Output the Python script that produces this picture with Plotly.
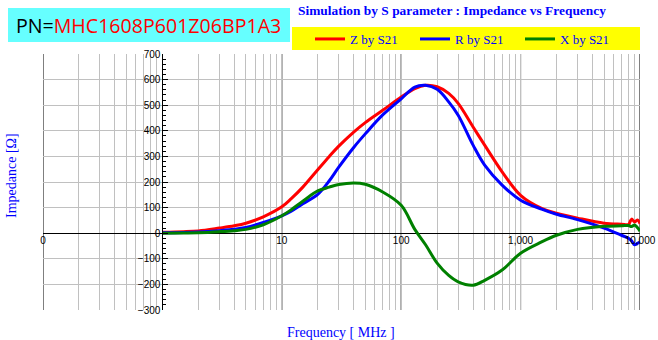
import plotly.graph_objects as go

# Frequency points [MHz] and impedance components [Ohm]
freq_mhz = [1, 1.5, 2, 3, 4, 5, 7, 10, 12, 15, 20, 25, 30, 40, 50, 70, 100,
            130, 160, 200, 250, 300, 400, 500, 700, 1000, 1500, 2000, 3000,
            5000, 7000, 8000, 8500, 9000, 9500, 10000]
z_s21 = [4, 6, 9, 20, 29, 39, 64, 103, 135, 180, 248, 300, 340, 395, 432, 480,
         532, 565, 578, 572, 546, 507, 415, 344, 240, 148, 97, 78, 59, 39, 35,
         34, 55, 44, 52, 38]
r_s21 = [2, 3, 5, 10, 15, 22, 42, 68, 86, 115, 152, 205, 258, 335, 388, 462,
         525, 571, 578, 562, 513, 461, 344, 266, 188, 129, 94, 74, 53, 20, -8,
         -20, -30, -45, -40, -35]
x_s21 = [0, 1, 2, 6, 10, 15, 33, 68, 92, 125, 165, 180, 190, 196, 191, 161,
         109, 15, -45, -117, -165, -190, -203, -184, -144, -78, -34, -8, 15,
         27, 29, 30, 26, 32, 22, 8]

# Axis labelling
x_label_vals = [0.1, 10, 100, 1000, 10000]
x_label_text = ["0", "10", "100", "1,000", "10,000"]
x_major_lines = [0.1, 10, 100, 1000, 10000]
y_tick_vals = [-300, -200, -100, 0, 100, 200, 300, 400, 500, 600, 700]

# log grid: every integer multiple inside each decade
grid_vals = []
for dec in [0.1, 1, 10, 100, 1000]:
    for m in range(1, 10):
        grid_vals.append(round(m * dec, 6))
grid_vals.append(10000)
grid_text = []
for v in grid_vals:
    if v in x_label_vals:
        grid_text.append(x_label_text[x_label_vals.index(v)])
    else:
        grid_text.append("")

W, H = 658, 340
ML, MR, MT, MB = 43, 18, 54, 30
PW, PH = W - ML - MR, H - MT - MB


def px(xp):
    return (xp - ML) / PW


def py(yp):
    return (H - MB - yp) / PH


serif = "Liberation Serif"
fig = go.Figure()
for name, vals, col in [("Z by S21", z_s21, "#FF0000"),
                        ("R by S21", r_s21, "#0000FF"),
                        ("X by S21", x_s21, "#008000")]:
    fig.add_trace(go.Scatter(x=freq_mhz, y=vals, mode="lines", name=name,
                             line=dict(color=col, width=3, shape="spline",
                                       smoothing=1.0)))

shapes = []
for xv in x_major_lines:
    shapes.append(dict(type="line", xref="x", yref="paper", x0=xv, x1=xv,
                       y0=0, y1=1, line=dict(color="black", width=1),
                       layer="between"))
# legend band
shapes.append(dict(type="rect", xref="paper", yref="paper",
                   x0=px(292), x1=px(640), y0=py(50), y1=py(27),
                   fillcolor="#FFFF00", line=dict(width=0), layer="below"))
# part-number box
shapes.append(dict(type="rect", xref="paper", yref="paper",
                   x0=px(8), x1=px(290), y0=py(42), y1=py(8),
                   fillcolor="#66FFFF", line=dict(width=0), layer="below"))

annotations = [
    dict(text="PN=<span style='color:#FF0000'>MHC1608P601Z06BP1A3</span>",
         xref="paper", yref="paper", x=px(148), y=py(25), showarrow=False,
         xanchor="center", yanchor="middle",
         font=dict(family="Open Sans", size=19.6, color="black")),
    dict(text="<b>Simulation by S parameter : Impedance vs Frequency</b>",
         xref="paper", yref="paper", x=px(452), y=py(10), showarrow=False,
         xanchor="center", yanchor="middle",
         font=dict(family=serif, size=13.4, color="#0000FF")),
    dict(text="Impedance [Ω]", textangle=-90,
         xref="paper", yref="paper", x=px(11), y=py(176), showarrow=False,
         xanchor="center", yanchor="middle",
         font=dict(family=serif, size=14, color="#0000FF")),
    dict(text="Frequency [ MHz ]",
         xref="paper", yref="paper", x=px(341), y=py(332), showarrow=False,
         xanchor="center", yanchor="middle",
         font=dict(family=serif, size=14, color="#0000FF")),
]

fig.update_layout(
    width=W, height=H,
    margin=dict(l=ML, r=MR, t=MT, b=MB, autoexpand=False),
    paper_bgcolor="white", plot_bgcolor="white",
    shapes=shapes, annotations=annotations,
    showlegend=True,
    legend=dict(orientation="h", x=px(310), y=py(39), xanchor="left",
                yanchor="middle", bgcolor="rgba(0,0,0,0)",
                entrywidth=60, entrywidthmode="pixels",
                font=dict(family=serif, size=13, color="#0000FF")),
    xaxis=dict(type="log", range=[-1, 4], anchor="free", position=0.3,
               automargin=False,
               tickvals=grid_vals, ticktext=grid_text, ticks="",
               showline=False, zeroline=False,
               showgrid=True, gridcolor="#C0C0C0", gridwidth=1,
               tickfont=dict(family="Liberation Sans", size=10, color="black")),
    yaxis=dict(range=[-300, 700], anchor="free", position=0.2,
               automargin=False,
               tickvals=y_tick_vals, showline=True, linecolor="black",
               linewidth=1, ticks="inside", ticklen=5, tickcolor="black",
               minor=dict(ticks="inside", ticklen=3, dtick=20,
                          tickcolor="black", showgrid=False),
               showgrid=True, gridcolor="#C0C0C0", gridwidth=1,
               zeroline=True, zerolinecolor="black", zerolinewidth=1,
               tickfont=dict(family="Liberation Sans", size=10, color="black")),
)

fig.write_html("out.html")
